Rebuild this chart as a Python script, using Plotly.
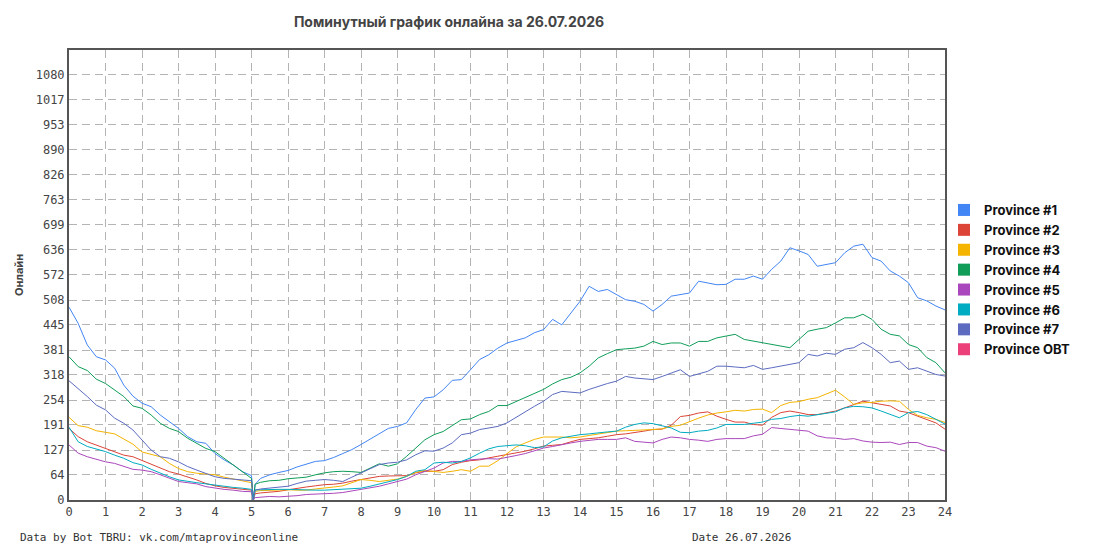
import plotly.graph_objects as go

# hours of the day (quarter-hour readings, plus the restart just after 5:00)
HOURS = [
    0, 0.25, 0.5, 0.75, 1, 1.25, 1.5, 1.75, 2, 2.25, 2.5, 2.75,
    3, 3.25, 3.5, 3.75, 4, 4.25, 4.5, 4.75, 5, 5.05, 5.1, 5.25, 5.5, 5.75,
    6, 6.25, 6.5, 6.75, 7, 7.25, 7.5, 7.75, 8, 8.25, 8.5, 8.75,
    9, 9.25, 9.5, 9.75, 10, 10.25, 10.5, 10.75, 11, 11.25, 11.5, 11.75,
    12, 12.25, 12.5, 12.75, 13, 13.25, 13.5, 13.75, 14, 14.25, 14.5, 14.75,
    15, 15.25, 15.5, 15.75, 16, 16.25, 16.5, 16.75, 17, 17.25, 17.5, 17.75,
    18, 18.25, 18.5, 18.75, 19, 19.25, 19.5, 19.75, 20, 20.25, 20.5, 20.75,
    21, 21.25, 21.5, 21.75, 22, 22.25, 22.5, 22.75, 23, 23.25, 23.5, 23.75, 24,
]

PROVINCE_1 = [
    490, 449, 394, 364, 356, 335, 292, 264, 246, 237, 216, 199,
    182, 161, 148, 144, 118, 102, 89, 72, 62, 0, 40, 55, 64, 70,
    75, 84, 92, 98, 100, 108, 118, 128, 141, 155, 170, 182,
    187, 196, 230, 259, 262, 280, 304, 306, 331, 357, 369, 386,
    399, 405, 412, 425, 433, 459, 445, 475, 505, 543, 530, 535,
    522, 509, 505, 497, 480, 497, 518, 522, 526, 556, 552, 547,
    548, 561, 561, 569, 561, 586, 607, 641, 633, 624, 594, 599,
    603, 628, 645, 650, 616, 607, 582, 569, 552, 514, 506, 493, 483,
]
PROVINCE_2 = [
    182, 161, 148, 140, 131, 123, 114, 110, 101, 91, 83, 72,
    66, 59, 51, 42, 36, 32, 30, 27, 25, 0, 16, 18, 20, 22,
    26, 30, 33, 36, 39, 40, 43, 48, 52, 56, 60, 61,
    62, 62, 69, 73, 73, 77, 90, 96, 100, 102, 107, 111,
    115, 120, 124, 130, 137, 139, 141, 148, 154, 156, 158, 162,
    166, 168, 171, 175, 179, 180, 190, 212, 215, 221, 224, 213,
    205, 198, 198, 192, 190, 210, 222, 226, 222, 217, 217, 222,
    226, 234, 243, 251, 247, 243, 239, 226, 222, 213, 205, 196, 180,
]
PROVINCE_3 = [
    210, 189, 185, 176, 172, 168, 155, 142, 122, 116, 110, 93,
    80, 72, 68, 66, 64, 58, 53, 49, 44, 0, 22, 24, 25, 26,
    26, 25, 25, 28, 30, 33, 36, 45, 52, 50, 47, 50,
    53, 60, 70, 75, 73, 70, 73, 77, 73, 86, 86, 100,
    118, 135, 145, 154, 160, 160, 160, 158, 160, 164, 168, 172,
    175, 176, 177, 177, 179, 181, 187, 190, 200, 208, 216, 221,
    224, 228, 226, 230, 231, 222, 240, 248, 250, 256, 260, 270,
    279, 262, 243, 247, 248, 251, 252, 251, 230, 215, 209, 205, 197,
]
PROVINCE_4 = [
    364, 339, 329, 307, 296, 280, 263, 239, 233, 216, 195, 182,
    174, 157, 144, 131, 123, 106, 91, 72, 55, 0, 40, 45, 49, 50,
    54, 56, 58, 64, 69, 72, 73, 72, 70, 81, 92, 86,
    92, 111, 132, 153, 166, 174, 189, 204, 206, 217, 225, 240,
    240, 250, 259, 270, 281, 295, 306, 312, 323, 340, 361, 372,
    382, 384, 386, 391, 403, 395, 399, 399, 391, 403, 403, 412,
    417, 421, 408, 404, 400, 395, 391, 387, 408, 429, 434, 438,
    450, 463, 463, 472, 459, 434, 421, 417, 395, 387, 362, 349, 323,
]
PROVINCE_5 = [
    140, 119, 110, 103, 97, 93, 85, 78, 76, 72, 64, 55,
    47, 44, 41, 34, 30, 27, 25, 22, 21, 0, 6, 7, 9, 8,
    9, 11, 14, 15, 15, 17, 19, 23, 28, 31, 35, 41,
    47, 53, 64, 73, 81, 94, 98, 98, 102, 104, 105, 104,
    108, 113, 118, 125, 132, 136, 141, 145, 149, 152, 154, 154,
    154, 158, 149, 147, 145, 154, 160, 158, 154, 152, 149, 154,
    156, 156, 156, 163, 167, 184, 182, 180, 178, 175, 163, 158,
    157, 154, 156, 150, 147, 146, 147, 141, 146, 146, 137, 133, 124,
]
PROVINCE_6 = [
    185, 148, 136, 129, 123, 114, 106, 95, 89, 78, 68, 59,
    51, 47, 44, 41, 38, 34, 32, 30, 27, 0, 26, 26, 27, 27,
    27, 26, 25, 25, 25, 26, 28, 29, 30, 35, 41, 46,
    52, 60, 73, 77, 94, 96, 94, 98, 107, 119, 130, 136,
    138, 140, 138, 133, 135, 150, 158, 162, 166, 168, 171, 173,
    175, 185, 192, 196, 194, 188, 183, 172, 171, 175, 177, 183,
    192, 192, 192, 195, 198, 205, 207, 212, 215, 213, 217, 220,
    224, 234, 238, 237, 234, 226, 217, 209, 222, 225, 217, 205, 193,
]
PROVINCE_7 = [
    303, 284, 263, 241, 229, 208, 195, 178, 152, 127, 110, 106,
    97, 85, 76, 68, 59, 55, 53, 51, 49, 0, 25, 28, 30, 32,
    35, 42, 48, 50, 52, 50, 47, 58, 69, 80, 90, 94,
    96, 102, 115, 125, 124, 132, 145, 166, 170, 179, 183, 187,
    196, 210, 226, 238, 251, 268, 276, 274, 272, 281, 289, 296,
    302, 314, 310, 308, 306, 314, 323, 331, 314, 320, 327, 340,
    340, 338, 336, 342, 332, 336, 340, 345, 349, 370, 366, 373,
    370, 383, 387, 400, 387, 370, 349, 353, 332, 336, 328, 319, 315,
]
PROVINCE_OBT = []

SERIES = [
    ("Province #1", PROVINCE_1, "#4285F4"),
    ("Province #2", PROVINCE_2, "#DB4437"),
    ("Province #3", PROVINCE_3, "#F4B400"),
    ("Province #4", PROVINCE_4, "#0F9D58"),
    ("Province #5", PROVINCE_5, "#AB47BC"),
    ("Province #6", PROVINCE_6, "#00ACC1"),
    ("Province #7", PROVINCE_7, "#5C6BC0"),
    ("Province OBT", PROVINCE_OBT, "#EC407A"),
]

Y_TICKS = [0, 64, 127, 191, 254, 318, 381, 445, 508, 572, 636, 699, 763, 826, 890, 953, 1017, 1080]
X_TICKS = list(range(0, 25))

MONO = "DejaVu Sans Mono"
GRID = "#b4b4b4"

# the page body adds an 8px offset, so the figure is laid out 8px up/left
OFF = 8
W, H = 1095, 550
L, R, T, B = 69 - OFF, W - 945 + OFF, 50 - OFF, H - 500 + OFF

fig = go.Figure()

for name, values, color in SERIES:
    if values:
        fig.add_trace(go.Scatter(
            x=HOURS, y=values, mode="lines", name=name,
            line=dict(color=color, width=1), showlegend=False,
        ))
    # square swatch for the legend
    fig.add_trace(go.Scatter(
        x=[None], y=[None], mode="markers", name=f"<b>{name}</b>",
        marker=dict(symbol="square", size=12, color=color),
    ))

fig.update_layout(
    width=W, height=H,
    plot_bgcolor="white", paper_bgcolor="white",
    margin=dict(l=L, r=R, t=T, b=B, autoexpand=False),
    title=dict(
        text="<b>Поминутный график онлайна за 26.07.2026</b>",
        x=(449 - OFF) / W, xanchor="center", y=1 - (22 - OFF) / H, yanchor="middle",
        font=dict(family="Inter", size=14, color="#444"),
    ),
    xaxis=dict(
        range=[0, 24], tickvals=X_TICKS, ticktext=[str(t) for t in X_TICKS],
        showgrid=True, gridcolor=GRID, griddash="8px,5px", gridwidth=1,
        showline=True, linecolor="#555", linewidth=2, mirror=True,
        ticks="", zeroline=False, automargin=False,
        tickfont=dict(family=MONO, size=12, color="#444"),
    ),
    yaxis=dict(
        range=[0, 1143.5], tickvals=Y_TICKS, ticktext=[str(t) for t in Y_TICKS],
        showgrid=True, gridcolor=GRID, griddash="8px,5px", gridwidth=1,
        showline=True, linecolor="#555", linewidth=2, mirror=True,
        ticks="", zeroline=False, automargin=False,
        tickfont=dict(family=MONO, size=12, color="#444"),
        title=dict(text="<b>Онлайн</b>", standoff=10,
                   font=dict(family="Inter", size=11, color="#444")),
    ),
    legend=dict(
        x=1 + (944 - 945) / 876, y=1 - (195 - 50) / 450, xanchor="left", yanchor="top",
        font=dict(family="Inter", size=13, color="#111"),
        bgcolor="rgba(0,0,0,0)",
        itemwidth=30, tracegroupgap=0,
    ),
    hovermode=False,
)

plot_w = W - L - R
plot_h = H - T - B
for text, px in [("Data by Bot TBRU: vk.com/mtaprovinceonline", 18), ("Date 26.07.2026", 690)]:
    fig.add_annotation(
        x=(px - OFF - L) / plot_w, y=(H - B - (537 - OFF)) / plot_h,
        xref="paper", yref="paper", text=text,
        showarrow=False, xanchor="left", yanchor="middle",
        font=dict(family=MONO, size=11, color="#333"),
    )

fig.write_html("out.html")
